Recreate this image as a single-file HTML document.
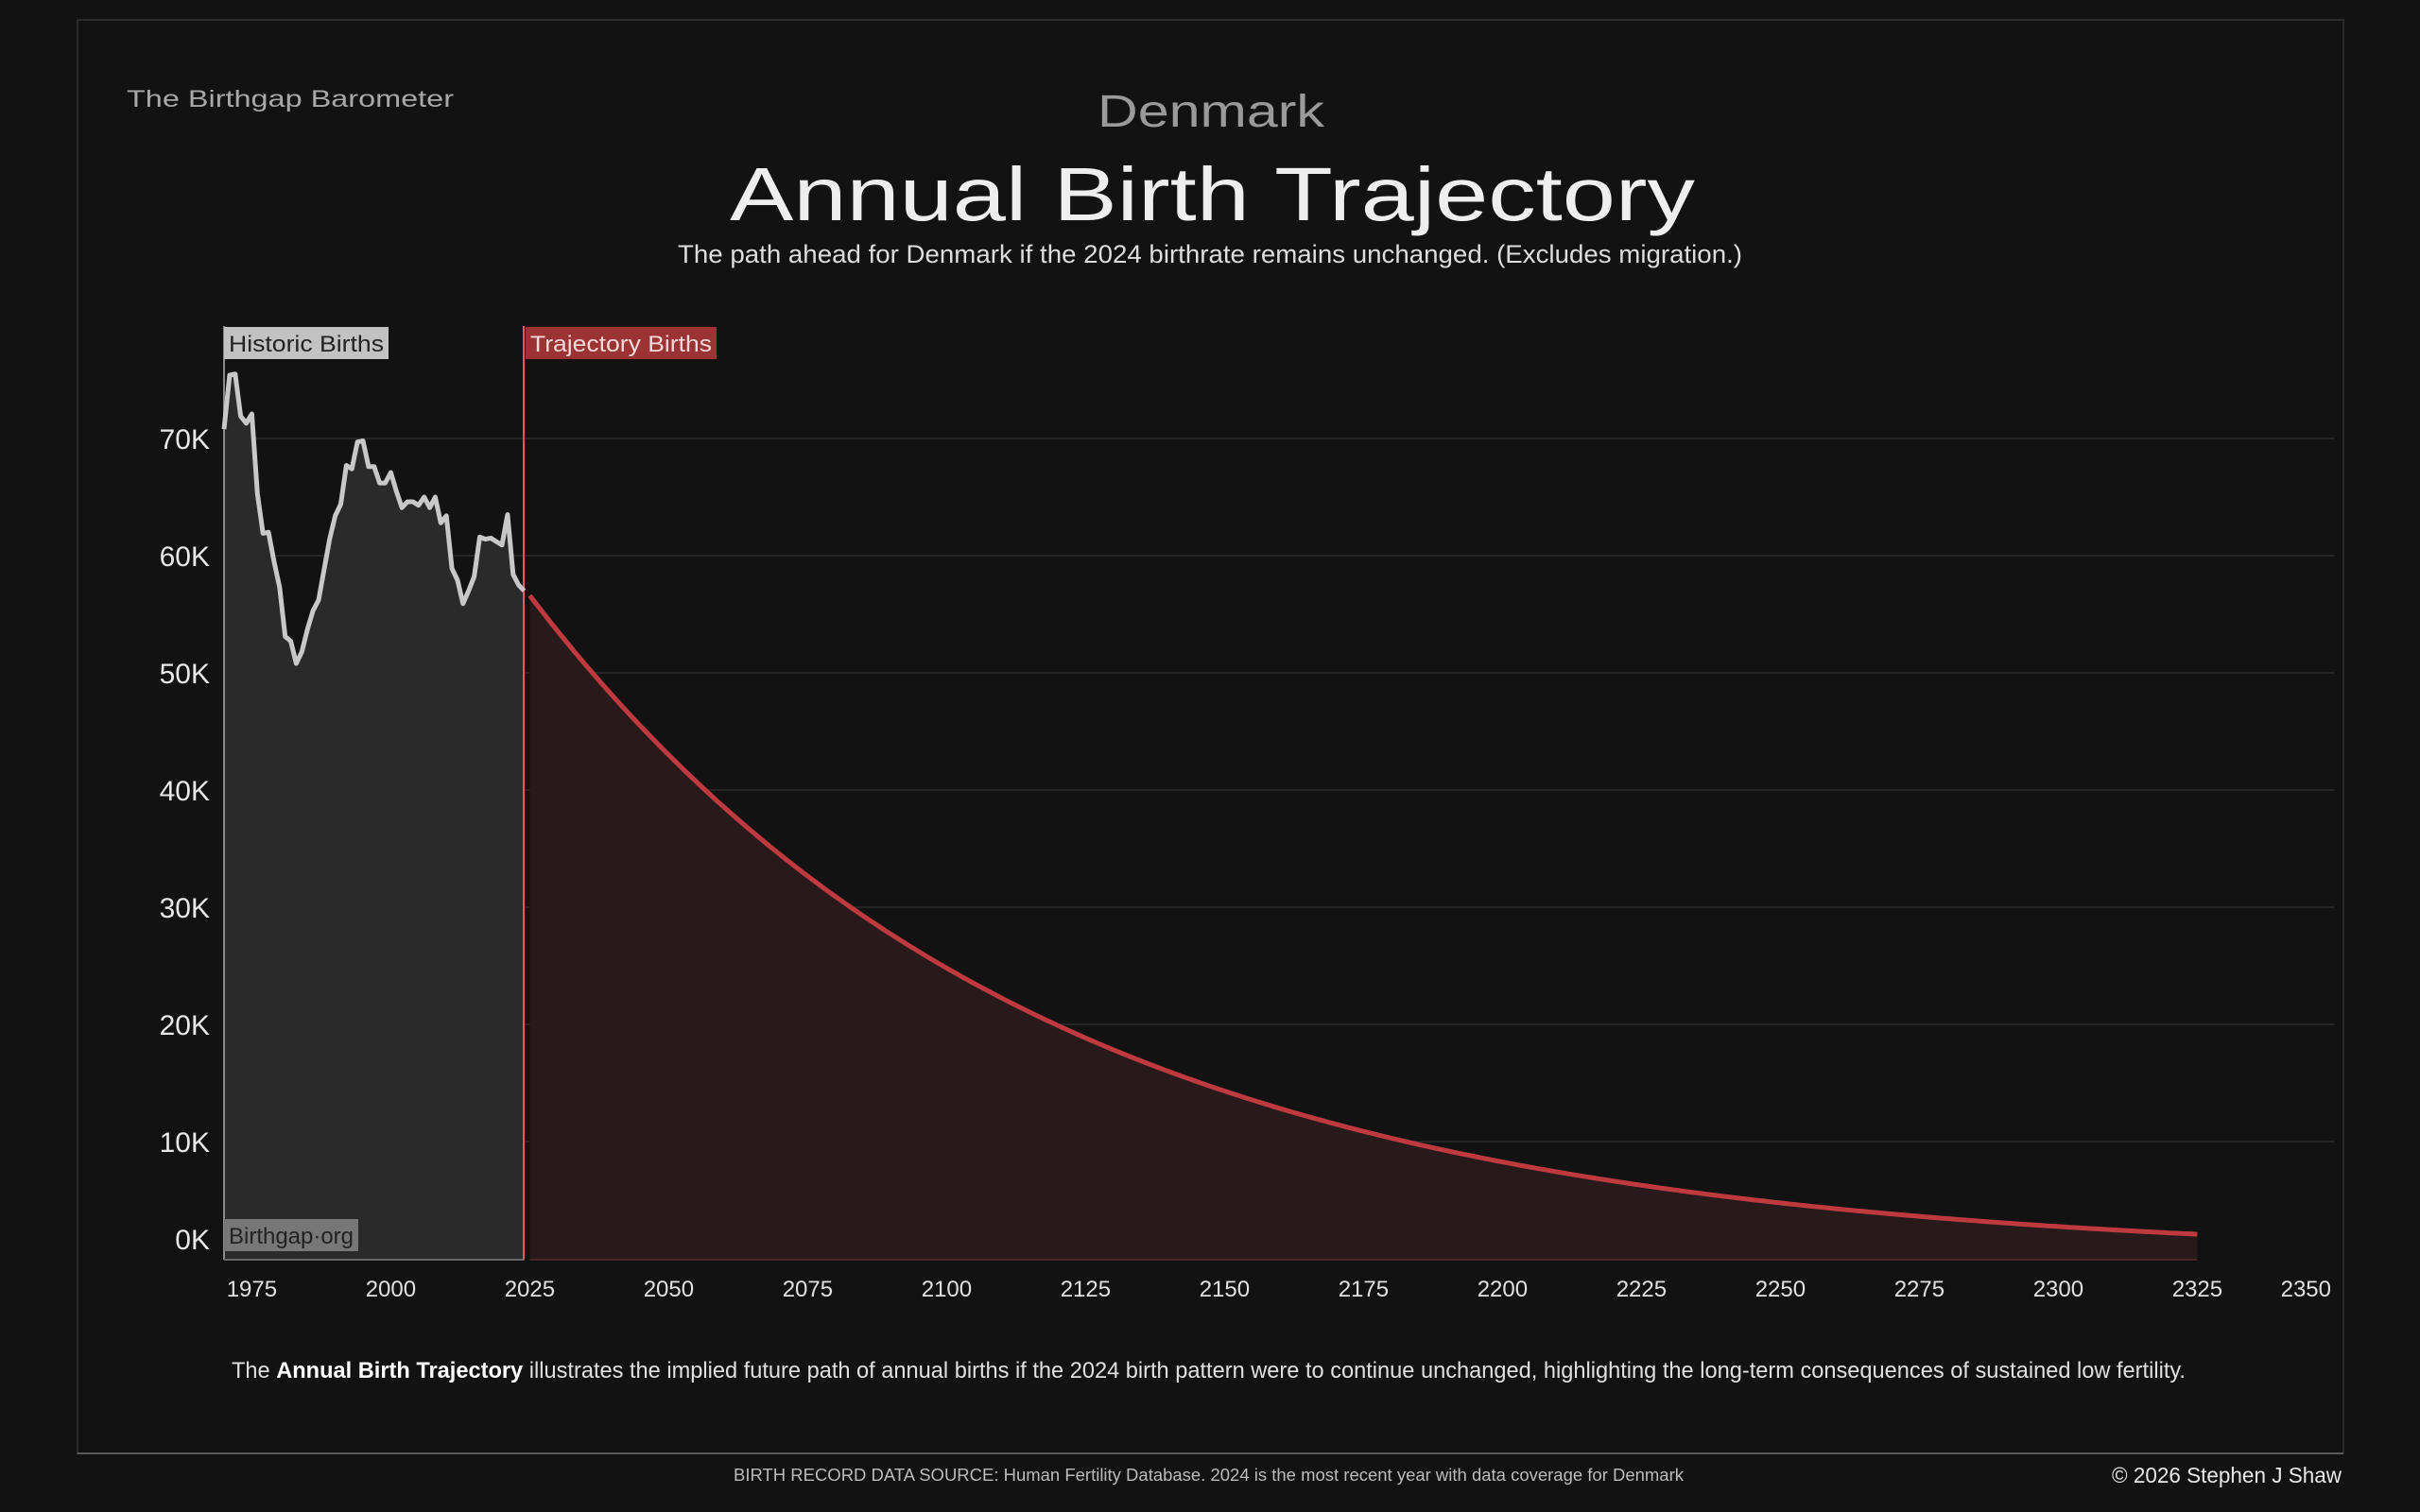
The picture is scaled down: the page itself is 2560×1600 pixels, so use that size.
<!DOCTYPE html>
<html><head><meta charset="utf-8"><style>
html,body{margin:0;padding:0;background:#111;}
svg{display:block;font-family:"Liberation Sans",sans-serif;}
</style></head><body>
<svg id="s" width="2560" height="1600" viewBox="0 0 2560 1600" xmlns="http://www.w3.org/2000/svg">
<rect x="0" y="0" width="2560" height="1600" fill="#121212"/>
<rect x="82" y="21" width="2397" height="1517" fill="none" stroke="#2c2c2c" stroke-width="2"/>
<line x1="82" y1="1538" x2="2479" y2="1538" stroke="#5a5a5a" stroke-width="2"/>
<text x="134" y="113" font-size="25" fill="#a8a8a8" textLength="346" lengthAdjust="spacingAndGlyphs">The Birthgap Barometer</text>
<text x="1161" y="134" font-size="48" fill="#9a9a9a" textLength="240" lengthAdjust="spacingAndGlyphs">Denmark</text>
<text x="772" y="233" font-size="80" fill="#eeeeee" textLength="1021" lengthAdjust="spacingAndGlyphs">Annual Birth Trajectory</text>
<text x="717" y="278" font-size="27" fill="#dddddd" textLength="1126" lengthAdjust="spacingAndGlyphs">The path ahead for Denmark if the 2024 birthrate remains unchanged.  (Excludes migration.)</text>
<g id="grid" stroke="#262626" stroke-width="2"></g>
<g id="plot"></g>
<g id="ylab" font-size="30" fill="#e8e8e8" text-anchor="end"></g>
<g id="xlab" font-size="24" fill="#e0e0e0" text-anchor="middle"></g>
<rect x="237" y="346" width="174" height="34" fill="#c2c2c2"/>
<text x="242" y="372" font-size="24" fill="#222" textLength="164" lengthAdjust="spacingAndGlyphs">Historic Births</text>
<rect x="556" y="346" width="202" height="34" fill="#9b3335"/>
<text x="561" y="372" font-size="24" fill="#f2d8d8" textLength="192" lengthAdjust="spacingAndGlyphs">Trajectory Births</text>
<rect x="237" y="1290" width="142" height="34" fill="#777"/>
<text x="242" y="1316" font-size="24" fill="#222" textLength="132" lengthAdjust="spacingAndGlyphs">Birthgap·org</text>
<text x="245" y="1458" font-size="24" fill="#e0e0e0" textLength="2067" lengthAdjust="spacingAndGlyphs">The <tspan font-weight="bold" fill="#fff">Annual Birth Trajectory</tspan> illustrates the implied future path of annual births if the 2024 birth pattern were to continue unchanged, highlighting the long-term consequences of sustained low fertility.</text>
<text x="776" y="1567" font-size="18" fill="#bbbbbb" textLength="1005" lengthAdjust="spacingAndGlyphs">BIRTH RECORD DATA SOURCE: Human Fertility Database. 2024 is the most recent year with data coverage for Denmark</text>
<text x="2477" y="1569" font-size="23" fill="#e8e8e8" text-anchor="end" textLength="243" lengthAdjust="spacingAndGlyphs">© 2026 Stephen J Shaw</text>
</svg>
<script>
var NS="http://www.w3.org/2000/svg";
function el(p,t,a,txt){var e=document.createElementNS(NS,t);for(var k in a)e.setAttribute(k,a[k]);if(txt!=null)e.textContent=txt;document.getElementById(p).appendChild(e);return e;}
function X(y){return 237+(y-1970)*5.88;}
function Y(v){return 1332-v*12.4;}
for(var i=1;i<=7;i++){el("grid","line",{x1:237,x2:2469,y1:Y(i*10),y2:Y(i*10)});}
for(var i=0;i<=7;i++){el("ylab","text",{x:222,y:(i==0?1322:Y(i*10)+11)},i==0?"0K":(i+"0K"));}
for(var yr=1975;yr<=2325;yr+=25){el("xlab","text",{x:X(yr),y:1372},String(yr));}
el("xlab","text",{x:2466,y:1372,"text-anchor":"end"},"2350");
var h=[70.8,75.4,75.5,71.9,71.3,72.1,65.3,61.9,62.0,59.5,57.3,53.1,52.7,50.8,51.8,53.7,55.3,56.2,58.8,61.4,63.4,64.4,67.7,67.4,69.7,69.8,67.6,67.6,66.2,66.2,67.1,65.5,64.1,64.6,64.6,64.3,65.0,64.1,65.0,62.8,63.4,58.9,57.9,55.9,57.0,58.2,61.6,61.4,61.5,61.2,60.9,63.5,58.4,57.5,57.0];
var pts=[];
for(var i=0;i<h.length;i++){pts.push(X(1970+i).toFixed(1)+","+Y(h[i]).toFixed(1));}
el("plot","path",{d:"M"+X(1970)+",1332 L"+pts.join(" L")+" L"+X(2024)+",1332 Z",fill:"#2a2a2a"});
var t=[];for(var yr=2025;yr<=2325;yr++){t.push(X(yr).toFixed(1)+","+Y(56.6*Math.exp(-0.011*(yr-2025))).toFixed(1));}
el("plot","path",{d:"M"+X(2025)+",1332 L"+t.join(" L")+" L"+X(2325)+",1332 Z",fill:"#281a1a"});
el("plot","line",{x1:237,y1:345,x2:237,y2:1333,stroke:"#8a8a8a","stroke-width":2});
el("plot","line",{x1:237,y1:1333,x2:X(2024),y2:1333,stroke:"#666","stroke-width":2});
el("plot","line",{x1:X(2025),y1:1333,x2:X(2325),y2:1333,stroke:"#4a2626","stroke-width":2});
el("plot","line",{x1:554,y1:345,x2:554,y2:1333,stroke:"#e05a5e","stroke-width":2});
el("plot","polyline",{points:pts.join(" "),fill:"none",stroke:"#c8c8c8","stroke-width":5,"stroke-linejoin":"round"});
el("plot","polyline",{points:t.join(" "),fill:"none",stroke:"#bf3a3e","stroke-width":5,"stroke-linejoin":"round"});
</script>
</body></html>
